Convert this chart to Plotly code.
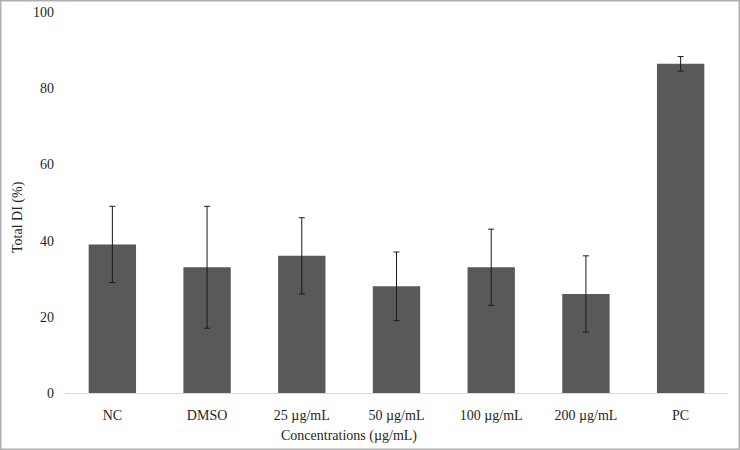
import plotly.graph_objects as go

categories = ["NC", "DMSO", "25 µg/mL", "50 µg/mL", "100 µg/mL", "200 µg/mL", "PC"]
total_di = [39, 33, 36, 28, 33, 26, 86.4]
errors = [10, 16, 10, 9, 10, 10, 1.9]
y_ticks = [0, 20, 40, 60, 80, 100]

W, H = 740, 450
L, R, T, B = 65, 12, 12, 57
pw, ph = W - L - R, H - T - B

def px_x(x):
    return (x - L) / pw

def px_y(y):
    return (H - B - y) / ph

font = dict(family="Liberation Serif, Times New Roman, serif", size=14, color="#262626")

fig = go.Figure(
    go.Bar(
        x=categories,
        y=total_di,
        marker=dict(color="#595959", line=dict(width=0)),
        error_y=dict(type="data", array=errors, visible=True,
                     color="#1a1a1a", thickness=1, width=3),
    )
)

fig.update_layout(
    width=W, height=H,
    margin=dict(l=L, r=R, t=T, b=B, pad=0),
    paper_bgcolor="white", plot_bgcolor="white",
    bargap=0.5,
    showlegend=False,
    font=font,
    xaxis=dict(showline=True, linecolor="#d9d9d9", linewidth=1, automargin=False,
               showgrid=False, ticks="", ticklabelstandoff=9, zeroline=False,
               tickfont=font),
    yaxis=dict(range=[0, 100], tickvals=y_ticks, showgrid=False, zeroline=False,
               automargin=False,
               showline=False, ticks="", ticklabelstandoff=10, tickfont=font),
    annotations=[
        dict(text="Total DI (%)", xref="paper", yref="paper",
             x=px_x(18), y=px_y(217), textangle=-90, showarrow=False,
             xanchor="center", yanchor="middle", font=font),
        dict(text="Concentrations (µg/mL)", xref="paper", yref="paper",
             x=px_x(349), y=px_y(436), showarrow=False,
             xanchor="center", yanchor="middle", font=font),
    ],
    shapes=[
        dict(type="rect", xref="paper", yref="paper",
             x0=px_x(0.75), x1=px_x(W - 0.75), y0=px_y(H - 0.75), y1=px_y(0.75),
             line=dict(color="#b0b0b0", width=1.5), fillcolor="rgba(0,0,0,0)",
             layer="below"),
    ],
)

fig.write_html(
    "out.html",
    config={"displayModeBar": False},
    post_script="document.body.style.margin='0';document.body.style.overflow='hidden';",
)
